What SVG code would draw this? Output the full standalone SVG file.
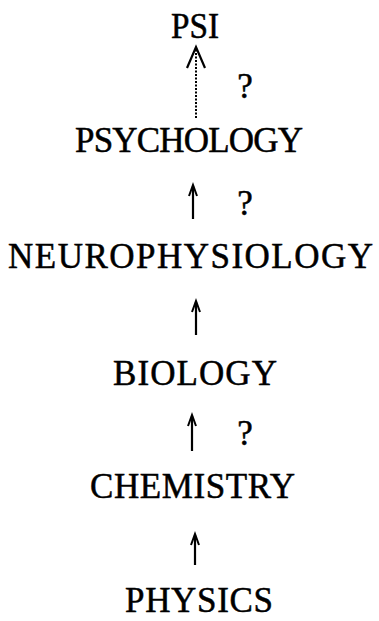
<svg xmlns="http://www.w3.org/2000/svg" width="379" height="621" viewBox="0 0 379 621">
<style>
.t{font-family:"Liberation Serif","Times New Roman",serif;font-size:35px;fill:#000;stroke:#000;stroke-width:0.5;text-anchor:middle}
.a{stroke:#000;stroke-width:2.2;fill:none}
.h{fill:none;stroke:#000;stroke-width:2;stroke-linejoin:miter}
.d{stroke:#000;stroke-width:2;fill:none;stroke-dasharray:2 1.5}
</style>
<rect width="379" height="621" fill="#fff"/>
<g id="psi"><text class="t" x="195" y="38" textLength="48" lengthAdjust="spacingAndGlyphs">PSI</text></g>
<g id="psychology"><text class="t" x="189" y="152" textLength="228" lengthAdjust="spacing">PSYCHOLOGY</text></g>
<g id="neurophysiology"><text class="t" x="190.5" y="268" textLength="365" lengthAdjust="spacing">NEUROPHYSIOLOGY</text></g>
<g id="biology"><text class="t" x="195" y="385" textLength="164" lengthAdjust="spacing">BIOLOGY</text></g>
<g id="chemistry"><text class="t" x="192.5" y="498" textLength="205" lengthAdjust="spacing">CHEMISTRY</text></g>
<g id="physics"><text class="t" x="199" y="612" textLength="148" lengthAdjust="spacing">PHYSICS</text></g>
<g id="connectors">
  <path class="d" d="M196,118 V49"/>
  <path class="a" d="M187,68 L196,47 L205,68" stroke-width="1.8"/>
  <path class="a" d="M193,219 V186"/><path class="h" d="M189,196 L193,185 L197,196"/>
  <path class="a" d="M196,335 V302"/><path class="h" d="M192,312 L196,301 L200,312"/>
  <path class="a" d="M192,451 V416"/><path class="h" d="M188,426 L192,415 L196,426"/>
  <path class="a" d="M195,565 V535"/><path class="h" d="M191,545 L195,534 L199,545"/>
</g>
<g id="questions">
  <text class="t" x="245" y="98">?</text>
  <text class="t" x="245" y="215">?</text>
  <text class="t" x="245" y="445">?</text>
</g>
</svg>
